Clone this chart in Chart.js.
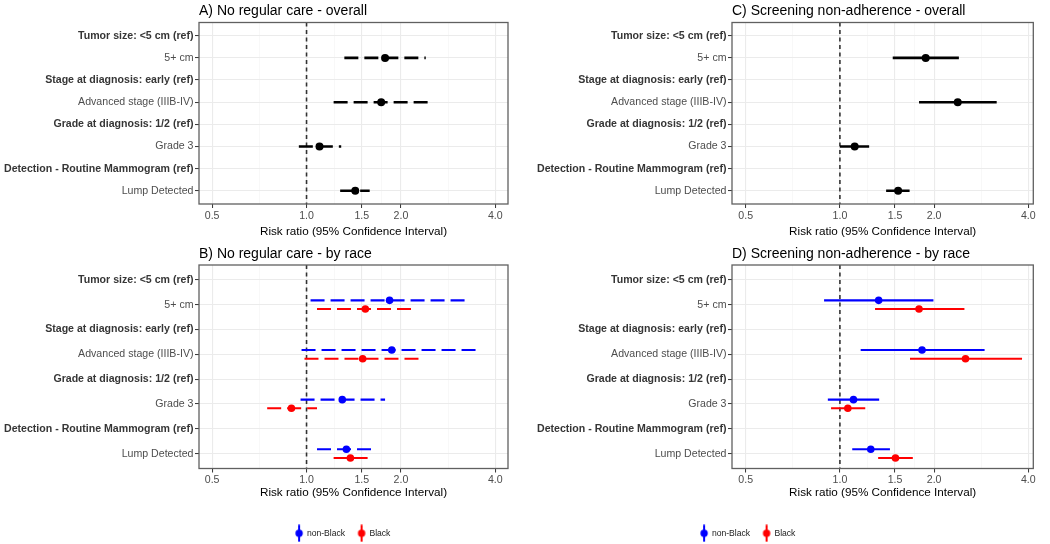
<!DOCTYPE html>
<html>
<head>
<meta charset="utf-8">
<script src="https://cdn.jsdelivr.net/npm/chart.js@4.4.1/dist/chart.umd.min.js"></script>
<style>
html,body{margin:0;padding:0;background:#fff;width:1050px;height:544px;overflow:hidden;}
.pane{position:absolute;}
</style>
</head>
<body>
<div class="pane" id="pA" style="left:0px;top:0px;width:525px;height:244px"><canvas id="cA"></canvas></div>
<div class="pane" id="pC" style="left:525px;top:0px;width:525px;height:244px"><canvas id="cC"></canvas></div>
<div class="pane" id="pB" style="left:0px;top:240px;width:525px;height:264px"><canvas id="cB"></canvas></div>
<div class="pane" id="pD" style="left:525px;top:240px;width:525px;height:264px"><canvas id="cD"></canvas></div>
<div class="pane" id="pL1" style="left:243px;top:515.7px;width:200px;height:90px"><canvas id="cL1"></canvas></div>
<div class="pane" id="pL2" style="left:648px;top:515.7px;width:200px;height:90px"><canvas id="cL2"></canvas></div>
<script>
// ---------------- data ----------------
const categories = [
  'Tumor size: <5 cm (ref)',
  '5+ cm',
  'Stage at diagnosis: early (ref)',
  'Advanced stage (IIIB-IV)',
  'Grade at diagnosis: 1/2 (ref)',
  'Grade 3',
  'Detection - Routine Mammogram (ref)',
  'Lump Detected'
];
const xTickValues = [0.5, 1.0, 1.5, 2.0, 4.0];
const xTickLabels = ['0.5', '1.0', '1.5', '2.0', '4.0'];
const raceGroups = ['non-Black', 'Black'];

// A) No regular care - overall
const careAllRR = [null, 1.78, null, 1.73, null, 1.10, null, 1.43];
const careAllLo = [null, 1.32, null, 1.22, null, 0.945, null, 1.28];
const careAllHi = [null, 2.40, null, 2.45, null, 1.29, null, 1.59];

// B) No regular care - by race
const careNonBlackRR = [null, 1.84, null, 1.87, null, 1.30, null, 1.34];
const careNonBlackLo = [null, 1.03, null, 0.964, null, 0.957, null, 1.08];
const careNonBlackHi = [null, 3.25, null, 3.55, null, 1.78, null, 1.61];
const careBlackRR = [null, 1.54, null, 1.51, null, 0.895, null, 1.38];
const careBlackLo = [null, 1.08, null, 0.985, null, 0.749, null, 1.22];
const careBlackHi = [null, 2.18, null, 2.31, null, 1.08, null, 1.57];

// C) Screening non-adherence - overall
const screenAllRR = [null, 1.88, null, 2.38, null, 1.115, null, 1.535];
const screenAllLo = [null, 1.475, null, 1.79, null, 1.00, null, 1.405];
const screenAllHi = [null, 2.40, null, 3.17, null, 1.24, null, 1.67];

// D) Screening non-adherence - by race
const screenNonBlackRR = [null, 1.33, null, 1.83, null, 1.105, null, 1.255];
const screenNonBlackLo = [null, 0.89, null, 1.165, null, 0.915, null, 1.095];
const screenNonBlackHi = [null, 1.99, null, 2.90, null, 1.335, null, 1.445];
const screenBlackRR = [null, 1.79, null, 2.52, null, 1.06, null, 1.505];
const screenBlackLo = [null, 1.295, null, 1.675, null, 0.937, null, 1.325];
const screenBlackHi = [null, 2.50, null, 3.82, null, 1.205, null, 1.71];

// ---------------- styling / layout ----------------
const FONT = "'Liberation Sans', Arial, Helvetica, sans-serif";
const BLUE = '#0000ff', RED = '#ff0000', BLACK = '#000000';
const isRef = i => /\(ref\)$/.test(categories[i]);
const isMajor = v => xTickValues.some(t => Math.abs(t - v) < 1e-9);
const gridValues = [];
xTickValues.forEach((v, k) => {
  gridValues.push(v);
  if (k < xTickValues.length - 1) gridValues.push(Math.sqrt(v * xTickValues[k + 1]));
});

const frame = {
  id: 'frame',
  afterDraw(chart) {
    const {ctx, chartArea: a} = chart;
    ctx.save();
    ctx.strokeStyle = '#606060';
    ctx.lineWidth = 1.3;
    ctx.strokeRect(a.left, a.top, a.right - a.left, a.bottom - a.top);
    ctx.restore();
  }
};

function buildPanel(canvasId, geo, title, series, style) {
  const nCat = categories.length;
  const datasets = [];
  // vertical reference line at RR = 1
  datasets.push({
    data: [{x: 1, y: -0.6}, {x: 1, y: nCat - 0.4}],
    showLine: true, borderColor: '#333333', borderWidth: 1.6, borderDash: [4, 3.5],
    pointRadius: 0, order: 3
  });
  series.forEach(s => {
    s.rr.forEach((v, i) => {
      if (v == null) return;
      datasets.push({
        data: [{x: s.lo[i], y: i + s.off}, {x: s.hi[i], y: i + s.off}],
        showLine: true, borderColor: s.color, borderWidth: style.lw,
        borderDash: style.dash, borderCapStyle: 'butt', pointRadius: 0, order: 2
      });
    });
    const pts = [];
    s.rr.forEach((v, i) => { if (v != null) pts.push({x: v, y: i + s.off}); });
    datasets.push({
      label: s.label, data: pts, pointRadius: style.r, pointBorderWidth: 0,
      backgroundColor: s.color, borderColor: s.color, order: 1
    });
  });

  const tTop = geo.titleY - geo.y0 - 8.4;
  const tBot = geo.plotT - geo.y0 - tTop - 16.8;

  return new Chart(document.getElementById(canvasId), {
    type: 'scatter',
    data: {datasets},
    plugins: [frame],
    options: {
      animation: false, events: [], responsive: true, maintainAspectRatio: false,
      layout: {padding: {left: 0, top: 0, bottom: 0, right: geo.x0 + geo.w - geo.plotR}},
      scales: {
        x: {
          type: 'logarithmic', min: geo.xMin, max: geo.xMax, bounds: 'data',
          afterBuildTicks: s => { s.ticks = gridValues.map(v => ({value: v})); },
          afterFit: s => { s.height = geo.y0 + geo.h - geo.plotB; },
          ticks: {
            autoSkip: false, maxRotation: 0, minRotation: 0, padding: geo.tickPad,
            font: {family: FONT, size: 10.6}, color: '#4d4d4d',
            callback: v => { const k = xTickValues.findIndex(t => Math.abs(t - v) < 1e-9); return k >= 0 ? xTickLabels[k] : ''; }
          },
          grid: {
            color: c => (c.tick && isMajor(c.tick.value)) ? '#ebebeb' : '#f3f3f3',
            lineWidth: c => (c.tick && isMajor(c.tick.value)) ? 1.1 : 0.6,
            tickColor: c => (c.tick && isMajor(c.tick.value)) ? '#333333' : 'rgba(0,0,0,0)',
            tickWidth: 1, tickLength: 4
          },
          border: {display: false},
          title: {
            display: true, text: 'Risk ratio (95% Confidence Interval)', color: '#000',
            font: {family: FONT, size: 11.7, lineHeight: 1.2}, padding: {top: 0, bottom: geo.xtPad}
          }
        },
        y: {
          type: 'linear', reverse: true, min: -0.6, max: nCat - 0.4, bounds: 'data',
          afterBuildTicks: s => { s.ticks = categories.map((c, i) => ({value: i})); },
          afterFit: s => { s.width = geo.plotL - geo.x0; },
          ticks: {
            autoSkip: false, padding: 1.5,
            callback: v => categories[v],
            font: c => ({family: FONT, size: 10.6, weight: isRef(c.index) ? 'bold' : 'normal'}),
            color: c => isRef(c.index) ? '#363636' : '#4d4d4d'
          },
          grid: {color: '#ebebeb', lineWidth: 1.1, tickColor: '#333333', tickWidth: 1, tickLength: 4},
          border: {display: false}
        }
      },
      plugins: {
        legend: {display: false},
        tooltip: {enabled: false},
        title: {
          display: true, text: title, align: 'start', fullSize: false, color: '#000',
          font: {family: FONT, size: 14, weight: 'normal', lineHeight: 1.2},
          padding: {top: tTop, bottom: tBot}
        }
      }
    }
  });
}

const geoA = {x0: 0, y0: 0, w: 525, h: 244, plotL: 199, plotR: 508, plotT: 22.5, plotB: 204,
  titleY: 10.8, tickPad: 1.4, xtPad: 5.6, xMin: 0.454, xMax: 4.39};
const geoC = {x0: 525, y0: 0, w: 525, h: 244, plotL: 732, plotR: 1033.3, plotT: 22.5, plotB: 204,
  titleY: 10.8, tickPad: 1.4, xtPad: 5.6, xMin: 0.452, xMax: 4.15};
const geoB = {x0: 0, y0: 240, w: 525, h: 264, plotL: 199, plotR: 508, plotT: 265, plotB: 468.5,
  titleY: 253.8, tickPad: 1.2, xtPad: 3.8, xMin: 0.454, xMax: 4.39};
const geoD = {x0: 525, y0: 240, w: 525, h: 264, plotL: 732, plotR: 1033.3, plotT: 265, plotB: 468.5,
  titleY: 253.8, tickPad: 1.2, xtPad: 3.8, xMin: 0.452, xMax: 4.15};

const DODGE = 0.175;

buildPanel('cA', geoA, 'A) No regular care - overall',
  [{label: 'Overall', rr: careAllRR, lo: careAllLo, hi: careAllHi, color: BLACK, off: 0}],
  {lw: 2.6, r: 4, dash: [14, 6]});
buildPanel('cB', geoB, 'B) No regular care - by race',
  [{label: raceGroups[0], rr: careNonBlackRR, lo: careNonBlackLo, hi: careNonBlackHi, color: BLUE, off: -DODGE},
   {label: raceGroups[1], rr: careBlackRR, lo: careBlackLo, hi: careBlackHi, color: RED, off: DODGE}],
  {lw: 2.1, r: 3.8, dash: [14, 6]});
buildPanel('cC', geoC, 'C) Screening non-adherence - overall',
  [{label: 'Overall', rr: screenAllRR, lo: screenAllLo, hi: screenAllHi, color: BLACK, off: 0}],
  {lw: 2.6, r: 4, dash: []});
buildPanel('cD', geoD, 'D) Screening non-adherence - by race',
  [{label: raceGroups[0], rr: screenNonBlackRR, lo: screenNonBlackLo, hi: screenNonBlackHi, color: BLUE, off: -DODGE},
   {label: raceGroups[1], rr: screenBlackRR, lo: screenBlackLo, hi: screenBlackHi, color: RED, off: DODGE}],
  {lw: 2.1, r: 3.8, dash: []});

// ---------------- legends ----------------
function glyph(color) {
  const c = document.createElement('canvas');
  c.width = 10; c.height = 18;
  const g = c.getContext('2d');
  g.strokeStyle = color; g.lineWidth = 2;
  g.beginPath(); g.moveTo(5, 0.5); g.lineTo(5, 17.5); g.stroke();
  g.fillStyle = color;
  g.beginPath(); g.arc(5, 9, 3.7, 0, Math.PI * 2); g.fill();
  return c;
}
function buildLegend(canvasId) {
  const colors = [BLUE, RED];
  return new Chart(document.getElementById(canvasId), {
    type: 'scatter',
    data: {datasets: raceGroups.map((g, i) => ({label: g, data: [], backgroundColor: colors[i], borderColor: colors[i]}))},
    options: {
      animation: false, events: [], responsive: true, maintainAspectRatio: false,
      layout: {padding: 0},
      scales: {x: {display: false}, y: {display: false}},
      plugins: {
        tooltip: {enabled: false},
        title: {display: false},
        legend: {
          display: true, position: 'top', align: 'center',
          labels: {
            usePointStyle: true, pointStyleWidth: 7, padding: 13,
            font: {family: FONT, size: 8.6}, color: '#1a1a1a',
            generateLabels: chart => chart.data.datasets.map((d, i) => ({
              text: d.label, pointStyle: glyph(d.borderColor), fillStyle: d.borderColor,
              strokeStyle: d.borderColor, lineWidth: 0, hidden: false, datasetIndex: i, fontColor: '#1a1a1a'
            }))
          }
        }
      }
    }
  });
}
buildLegend('cL1');
buildLegend('cL2');
</script>
</body>
</html>
